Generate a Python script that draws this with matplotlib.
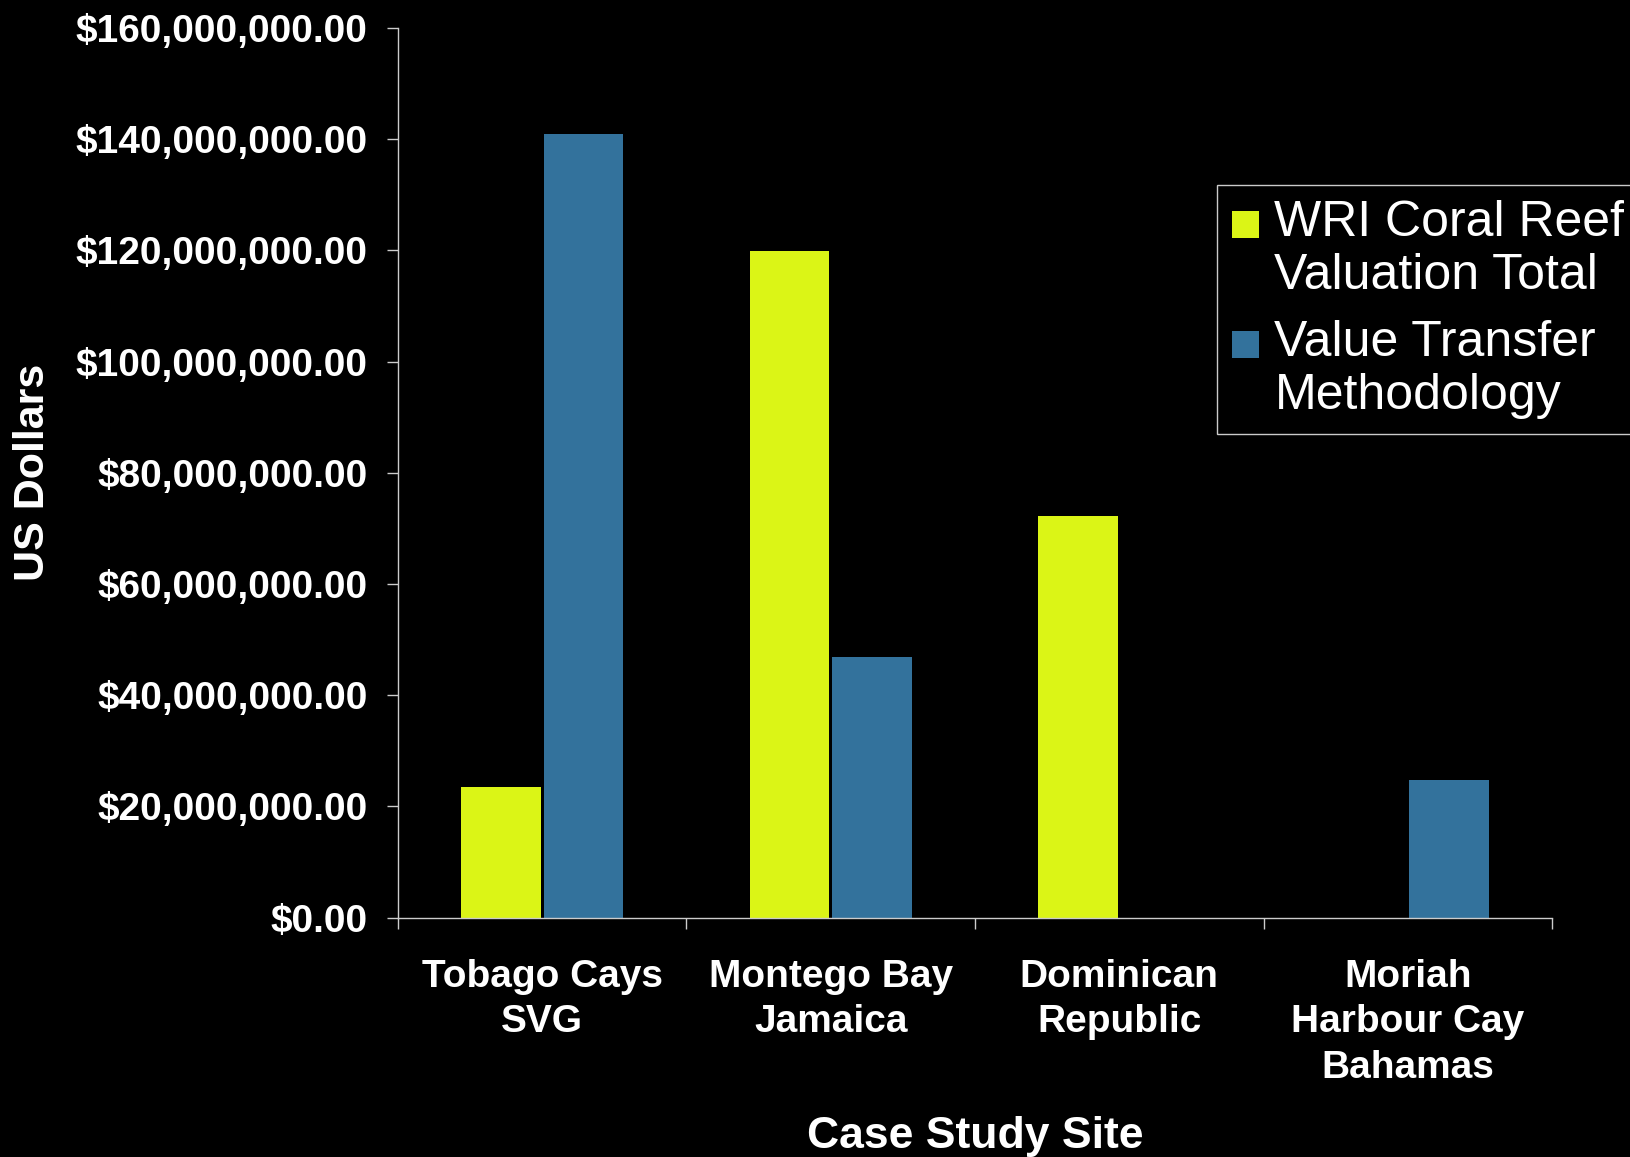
import matplotlib.pyplot as plt
import numpy as np
from matplotlib.patches import Rectangle
from matplotlib.container import BarContainer
from matplotlib.legend_handler import HandlerPatch, update_from_first_child

plt.rcParams['font.family'] = ['Liberation Sans', 'DejaVu Sans']

# data (US dollars)
sites = ["Tobago Cays\nSVG", "Montego Bay\nJamaica", "Dominican\nRepublic",
         "Moriah\nHarbour Cay\nBahamas"]
wri_total = [23.4e6, 119.8e6, 72.2e6, 0]
value_transfer = [140.9e6, 46.8e6, 0, 24.7e6]
series_names = ["WRI Coral Reef\nValuation Total", "Value Transfer\nMethodology"]
y_ticks = np.arange(0, 160e6 + 1, 20e6)

yellow = "#dbf516"
blue = "#33729c"
fg = "white"


# legend square sits next to the first line of a two-line label
def top_square(legend, orig_handle, xdescent, ydescent, width, height, fontsize):
    s = 0.55 * fontsize
    return Rectangle((-xdescent, -ydescent + height - s * 0.75), s, s)


fig = plt.figure(figsize=(16.31, 11.57), dpi=100, facecolor="black")
ax = fig.add_axes([0.244, 0.207, 0.7076, 0.7688])
ax.set_facecolor("black")

x = np.arange(len(sites))
w = 0.275
ax.bar(x - 0.143, wri_total, width=w, color=yellow, label=series_names[0])
ax.bar(x + 0.143, value_transfer, width=w, color=blue, label=series_names[1])

ax.set_xlim(-0.5, len(sites) - 0.5)
ax.set_ylim(0, 160e6)

ax.set_yticks(y_ticks)
ax.set_yticklabels([f"${v:,.2f}" for v in y_ticks], fontsize=28, fontweight="bold", color=fg)
ax.tick_params(axis="y", direction="out", length=8, width=1, color="#cccccc", pad=14)

ax.set_xticks(x)
ax.set_xticklabels(sites, fontsize=28, fontweight="bold", color=fg, linespacing=1.33)
ax.tick_params(axis="x", which="major", length=0, pad=30)
ax.set_xticks(np.arange(-0.5, len(sites), 1.0), minor=True)
ax.tick_params(axis="x", which="minor", direction="out", length=8, width=1, color="#cccccc")

for s in ["top", "right"]:
    ax.spines[s].set_visible(False)
for s in ["left", "bottom"]:
    ax.spines[s].set_color("#cccccc")
    ax.spines[s].set_linewidth(1)

ax.set_ylabel("US Dollars", fontsize=31, fontweight="bold", color=fg, labelpad=16)
ax.set_xlabel("Case Study Site", fontsize=32, fontweight="bold", color=fg, labelpad=22)

leg = fig.legend(loc="upper left", bbox_to_anchor=(1217 / 1631, 1 - 185 / 1157),
                 fontsize=36, frameon=True, facecolor="black", edgecolor="white",
                 fancybox=False, handlelength=0.55, handleheight=1.7,
                 handletextpad=0.3, labelspacing=0.42, borderpad=0.3, borderaxespad=0,
                 handler_map={BarContainer: HandlerPatch(patch_func=top_square,
                                                         update_func=update_from_first_child)})
leg.get_frame().set_linewidth(1)
for t in leg.get_texts():
    t.set_color(fg)
    t.set_linespacing(1.2)

fig.savefig("out.png", dpi=100, facecolor="black")
